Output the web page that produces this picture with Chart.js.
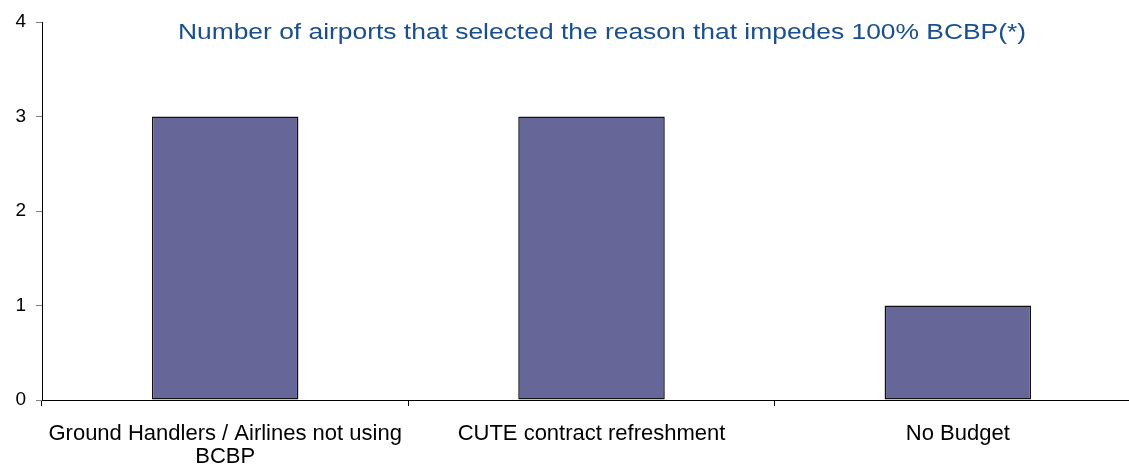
<!DOCTYPE html>
<html lang="en">
<head>
  <meta charset="UTF-8" />
  <title>BCBP reasons</title>
  <script src="https://cdn.jsdelivr.net/npm/chart.js"></script>
  <style>
    html, body {
      margin: 0;
      padding: 0;
      background: #ffffff;
      overflow: hidden;
    }
    .chart-wrap {
      position: relative;
      width: 1142px;
      height: 467px;
    }
  </style>
</head>
<body>

<div class="chart-wrap">
  <canvas id="reasonChart"></canvas>
</div>

<script>
  const reasons = [
    ['Ground Handlers / Airlines not using', 'BCBP'],
    'CUTE contract refreshment',
    'No Budget'
  ];
  const airportCounts = [3, 3, 1];
  const yTicks = [0, 1, 2, 3, 4];
  const chartTitle = 'Number of airports that selected the reason that impedes 100% BCBP(*)';

  // title sits inside the plot area, so draw it by hand (slightly widened)
  const innerTitle = {
    id: 'innerTitle',
    afterDraw(chart) {
      const ctx = chart.ctx;
      ctx.save();
      ctx.font = '22px "Liberation Sans", Arial, sans-serif';
      ctx.fillStyle = '#1a4f8b';
      ctx.textAlign = 'center';
      ctx.textBaseline = 'middle';
      ctx.translate(602, 33);
      ctx.scale(1.2, 1);
      ctx.fillText(chartTitle, 0, 0);
      ctx.restore();
    }
  };

  const ctx = document.getElementById('reasonChart').getContext('2d');
  new Chart(ctx, {
    type: 'bar',
    data: {
      labels: reasons,
      datasets: [{
        data: airportCounts,
        backgroundColor: '#666699',
        borderColor: '#111111',
        borderWidth: 1.5,
        borderSkipped: false,
        barPercentage: 0.4,
        categoryPercentage: 1
      }]
    },
    options: {
      responsive: true,
      maintainAspectRatio: false,
      animation: false,
      layout: { padding: { top: 22, right: 1, left: 0, bottom: 0 } },
      plugins: {
        legend: { display: false },
        tooltip: { enabled: false }
      },
      scales: {
        x: {
          offset: true,
          grid: {
            offset: true,
            drawOnChartArea: false,
            drawTicks: true,
            tickLength: 6,
            color: '#000000'
          },
          border: { display: true, color: '#000000', width: 1 },
          ticks: {
            color: '#000000',
            padding: 16,
            maxRotation: 0,
            autoSkip: false,
            font: { family: '"Liberation Sans", Arial, sans-serif', size: 22, lineHeight: 1.05 }
          },
          afterFit(scale) { scale.height = 67; }
        },
        y: {
          min: 0,
          max: 4,
          afterBuildTicks(scale) {
            scale.ticks = yTicks.map(v => ({ value: v }));
          },
          grid: {
            drawOnChartArea: false,
            drawTicks: true,
            tickLength: 6,
            color: '#808080'
          },
          border: { display: true, color: '#000000', width: 1 },
          ticks: {
            color: '#000000',
            padding: 10,
            font: { family: '"Liberation Sans", Arial, sans-serif', size: 19 }
          },
          afterFit(scale) { scale.width = 42; }
        }
      }
    },
    plugins: [innerTitle]
  });
</script>

</body>
</html>
